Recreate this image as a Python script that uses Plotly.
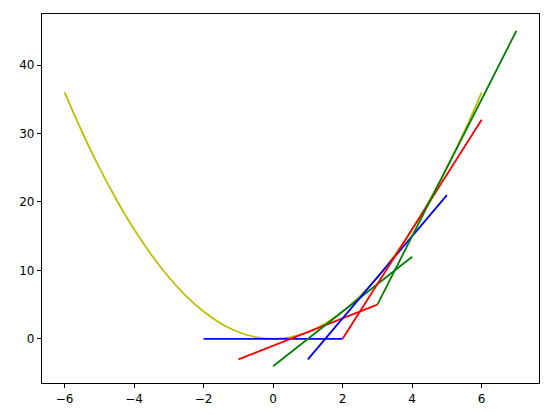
import plotly.graph_objects as go

# Parabola
curve_x = [-6, -5.5, -5, -4.5, -4, -3.5, -3, -2.5, -2, -1.5, -1, -0.5, 0,
           0.5, 1, 1.5, 2, 2.5, 3, 3.5, 4, 4.5, 5, 5.5, 6]
curve_y = [36, 30.25, 25, 20.25, 16, 12.25, 9, 6.25, 4, 2.25, 1, 0.25, 0,
           0.25, 1, 2.25, 4, 6.25, 9, 12.25, 16, 20.25, 25, 30.25, 36]

# Tangent segments (start, end), drawn in cycle blue, red, green
seg_x = [[-2, 2], [-1, 3], [0, 4], [1, 5], [2, 6], [3, 7]]
seg_y = [[0, 0], [-3, 5], [-4, 12], [-3, 21], [0, 32], [5, 45]]
seg_colors = ["#0000ff", "#ff0000", "#008000", "#0000ff", "#ff0000", "#008000"]

fig = go.Figure()

fig.add_trace(go.Scatter(x=curve_x, y=curve_y, mode="lines",
                         line=dict(color="#bfbf00", width=1.8, shape="spline")))

for xs, ys, c in zip(seg_x, seg_y, seg_colors):
    fig.add_trace(go.Scatter(x=xs, y=ys, mode="lines", line=dict(color=c, width=1.8)))

axis_style = dict(showgrid=False, zeroline=False, showline=True, linecolor="#000000",
                  linewidth=1.2, mirror=True, ticks="outside", ticklen=4,
                  tickcolor="#000000", tickwidth=1, automargin=False,
                  tickfont=dict(family="DejaVu Sans", size=12, color="black"))

fig.update_xaxes(range=[-6.65, 7.65], tickvals=[-6, -4, -2, 0, 2, 4, 6],
                 ticktext=["\u22126", "\u22124", "\u22122", "0", "2", "4", "6"], **axis_style)
fig.update_yaxes(range=[-6.45, 47.45], tickvals=[0, 10, 20, 30, 40], **axis_style)

# page body has an 8px margin, so the figure is sized to fit inside it
fig.update_layout(width=536, height=399, showlegend=False,
                  margin=dict(l=34, r=5, t=6, b=24, autoexpand=False),
                  plot_bgcolor="white", paper_bgcolor="white")

fig.write_html("out.html")
